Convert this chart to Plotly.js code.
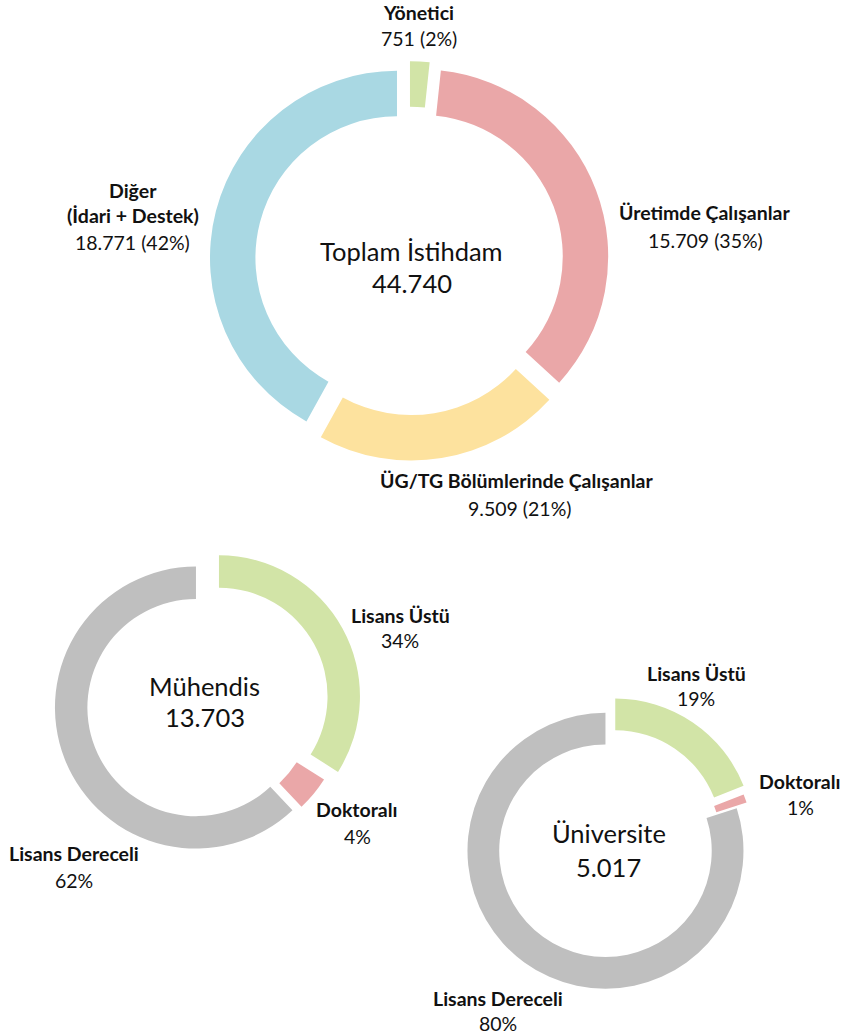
<!DOCTYPE html>
<html>
<head>
<meta charset="utf-8">
<script src="https://cdn.plot.ly/plotly-3.0.1.min.js"></script>
<style>
  html, body { margin: 0; padding: 0; background: #ffffff; }
  #chart { width: 850px; height: 1035px; }
</style>
</head>
<body>
<div id="chart"></div>
<script>
// ---------------- DATA ----------------
const topLabels = ['Yönetici', 'Üretimde Çalışanlar', 'ÜG/TG Bölümlerinde Çalışanlar', 'Diğer (İdari + Destek)'];
const topValues = [751, 15709, 9509, 18771];
const topCenterTitle = 'Toplam İstihdam';

const muhLabels = ['Lisans Üstü', 'Doktoralı', 'Lisans Dereceli'];
const muhPercents = [34, 4, 62];
const muhTotal = 13703;
const muhCenterTitle = 'Mühendis';

const uniLabels = ['Lisans Üstü', 'Doktoralı', 'Lisans Dereceli'];
const uniPercents = [19, 1, 80];
const uniTotal = 5017;
const uniCenterTitle = 'Üniversite';

// ---------------- STYLE / LAYOUT ----------------
const W = 850, H = 1035;
const FONT = 'Lato, "Open Sans", sans-serif';
const TXT = '#111111';
const topColors = ['#D2E4A7', '#EAA7A8', '#FDE29E', '#A9D8E3'];
const eduColors = ['#D2E4A7', '#EAA7A8', '#BFBFBF'];

function fmt(n) {
  return String(n).replace(/\B(?=(\d{3})+(?!\d))/g, '.');
}
function dom(cx, cy, r, pulls) {
  const mp = Math.max.apply(null, pulls);
  const h = r * (1 + mp);
  return { x: [(cx - h) / W, (cx + h) / W], y: [1 - (cy + h) / H, 1 - (cy - h) / H] };
}
function ann(text, px, py, size, bold) {
  return {
    text: bold ? '<b>' + text + '</b>' : text,
    x: px / W, y: 1 - py / H, xref: 'paper', yref: 'paper',
    xanchor: 'center', yanchor: 'middle', showarrow: false,
    font: { family: FONT, size: size, color: TXT }
  };
}

const topPull = [0.068, 0.068, 0.068, 0.068];
const muhPull = [0.113, 0.0, 0.069];
const uniPull = [0.10, 0.06, 0.025];

const common = {
  type: 'pie', sort: false, direction: 'clockwise', rotation: 0,
  textinfo: 'none', hoverinfo: 'label+percent', showlegend: false
};

const topTotal = topValues.reduce((a, b) => a + b, 0);
const topPct = topValues.map(v => Math.round(v / topTotal * 100));

const traces = [
  Object.assign({}, common, {
    labels: topLabels, values: topValues, hole: 0.757, pull: topPull,
    marker: { colors: topColors, line: { width: 0 } },
    domain: dom(409.3, 261, 187, topPull)
  }),
  Object.assign({}, common, {
    labels: muhLabels, values: muhPercents, hole: 0.77, pull: muhPull,
    marker: { colors: eduColors, line: { width: 0 } },
    domain: dom(205, 704, 141, muhPull)
  }),
  Object.assign({}, common, {
    labels: uniLabels, values: uniPercents, hole: 0.77, pull: uniPull,
    marker: { colors: eduColors, line: { width: 0 } },
    domain: dom(607.5, 848, 138, uniPull)
  })
];

const LS = 19.5;
const CS = 25.5;
const annotations = [
  // top donut center
  ann(topCenterTitle, 411.7, 251, CS, false),
  ann(fmt(topTotal), 411.7, 283, CS, false),
  // top donut labels
  ann(topLabels[0], 418.5, 13, LS, true),
  ann(fmt(topValues[0]) + ' (' + topPct[0] + '%)', 418.5, 39, LS, false),
  ann(topLabels[1], 704.5, 213, LS, true),
  ann(fmt(topValues[1]) + ' (' + topPct[1] + '%)', 705, 240, LS, false),
  ann(topLabels[2], 516.5, 481, LS, true),
  ann(fmt(topValues[2]) + ' (' + topPct[2] + '%)', 520, 508, LS, false),
  ann('Diğer', 133, 190, LS, true),
  ann('(İdari + Destek)', 133, 215, LS, true),
  ann(fmt(topValues[3]) + ' (' + topPct[3] + '%)', 132, 242, LS, false),
  // Mühendis
  ann(muhCenterTitle, 204, 686, CS, false),
  ann(fmt(muhTotal), 205, 717, CS, false),
  ann(muhLabels[0], 400, 615, LS, true),
  ann(muhPercents[0] + '%', 400, 640, LS, false),
  ann(muhLabels[1], 357, 809, LS, true),
  ann(muhPercents[1] + '%', 357, 836, LS, false),
  ann(muhLabels[2], 74, 853, LS, true),
  ann(muhPercents[2] + '%', 74, 880, LS, false),
  // Üniversite
  ann(uniCenterTitle, 609, 833, CS, false),
  ann(fmt(uniTotal), 608, 867, CS, false),
  ann(uniLabels[0], 696, 673, LS, true),
  ann(uniPercents[0] + '%', 696, 698, LS, false),
  ann(uniLabels[1], 799.5, 781, LS, true),
  ann(uniPercents[1] + '%', 800, 807, LS, false),
  ann(uniLabels[2], 498.5, 998, LS, true),
  ann(uniPercents[2] + '%', 498, 1023, LS, false)
];

const layout = {
  width: W, height: H,
  margin: { l: 0, r: 0, t: 0, b: 0, pad: 0 },
  paper_bgcolor: '#ffffff', plot_bgcolor: '#ffffff',
  font: { family: FONT, color: TXT },
  showlegend: false,
  annotations: annotations
};

Plotly.newPlot('chart', traces, layout, { displayModeBar: false, staticPlot: true });
</script>
</body>
</html>
